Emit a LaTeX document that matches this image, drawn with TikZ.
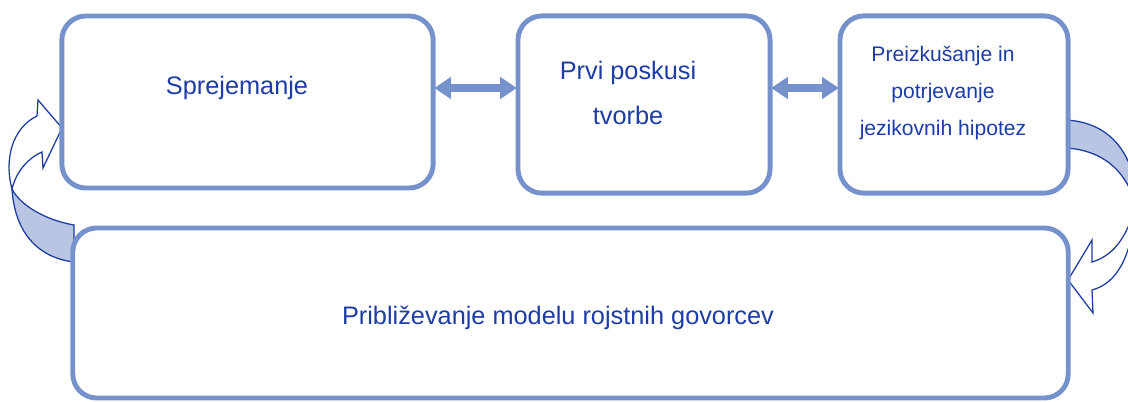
\documentclass[tikz,border=0pt]{standalone}
\usepackage{fontspec}
\setmainfont{Liberation Sans}
\usepackage{tikz}
\usetikzlibrary{arrows.meta,calc}
\definecolor{boxline}{RGB}{118,146,204}
\definecolor{textblue}{RGB}{30,60,165}
\definecolor{shade}{RGB}{184,198,228}
\definecolor{arrline}{RGB}{30,60,160}

\begin{document}
\begin{tikzpicture}[x=0.025cm, y=-0.025cm,
	box/.style={draw=boxline, line width=3.5pt, rounded corners=0.6cm, fill=white},
	lab/.style={text=textblue, align=center, font=\fontsize{18}{32}\selectfont},
	smalllab/.style={text=textblue, align=center, font=\fontsize{15}{26}\selectfont},
	link/.style={draw=boxline, line width=5pt, {Triangle[length=12pt,width=15pt]}-{Triangle[length=12pt,width=15pt]}, shorten >=-1pt, shorten <=-1pt},
	backpart/.style={draw=arrline, line width=0.9pt, fill=shade},
	frontpart/.style={draw=arrline, line width=0.9pt, fill=white}]
		\useasboundingbox (0,0) rectangle (1128,401);
		\clip (0,0) rectangle (1128,401);
		% curved arrow, left (bottom box back to Sprejemanje)
		\filldraw[backpart] (74,225) .. controls (45,220) and (20,205) .. (12,189) .. controls (15,235) and (40,258) .. (74,262) -- cycle;
		\filldraw[frontpart] (12,189) .. controls (4,160) and (12,128) .. (37,116) -- (38,100) -- (62,128) -- (43,168) -- (42,152) .. controls (28,158) and (16,172) .. (12,189) -- cycle;
		% curved arrow, right (third box down to bottom box)
		\filldraw[backpart] (1066,120) .. controls (1100,122) and (1124,140) .. (1134,178) -- (1134,200) .. controls (1124,168) and (1100,150) .. (1066,148) -- cycle;
		\filldraw[frontpart] (1136,205) .. controls (1132,255) and (1118,283) .. (1092,290) -- (1093,313) -- (1068,280) -- (1092,240) -- (1092,262) .. controls (1112,256) and (1126,240) .. (1136,205) -- cycle;
		% boxes
		\node[box, minimum width=9.28cm, minimum height=4.3cm] (sprej) at (247.5,102) {};
		\node[box, minimum width=6.3cm, minimum height=4.43cm] (tvorba) at (644,104.5) {};
		\node[box, minimum width=5.7cm, minimum height=4.43cm] (hipot) at (954,104.5) {};
		\node[box, minimum width=24.88cm, minimum height=4.25cm] (model) at (570.5,313) {};
		% texts
		\node[lab] (sprejlab) at (237,88) {Sprejemanje};
		\node[lab] (tvorbalab) at (628,93) {Prvi poskusi\\tvorbe};
		\node[smalllab] (hipotlab) at (943,93) {Preizkušanje in\\potrjevanje\\jezikovnih hipotez};
		\node[lab] (modellab) at (558,318) {Približevanje modelu rojstnih govorcev};
		% links
		\draw[link] (sprej.east |- sprejlab) -- (tvorba.west |- sprejlab);
		\draw[link] (tvorba.east |- sprejlab) -- (hipot.west |- sprejlab);
	\end{tikzpicture}
\end{document}
